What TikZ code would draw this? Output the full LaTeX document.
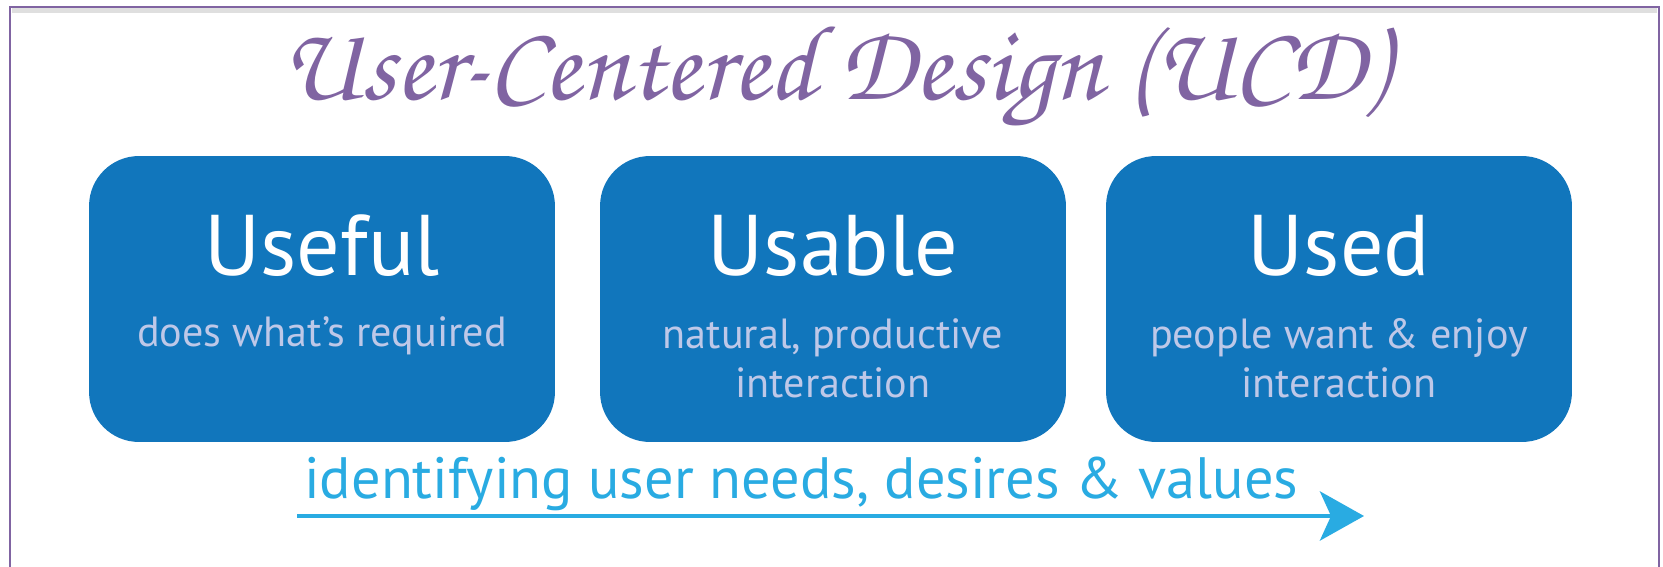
\documentclass[tikz,border=0pt]{standalone}
\usepackage{fontspec}
\setmainfont{PT Sans}
\newfontfamily\titlefont{texgyrechorus-mediumitalic.otf}
\usetikzlibrary{arrows.meta}
\definecolor{ucdpurple}{RGB}{128,100,162}
\definecolor{ucdblue}{RGB}{17,118,188}
\definecolor{ucdsub}{RGB}{190,200,232}
\definecolor{ucdcyan}{RGB}{41,171,226}
\tikzset{
  box/.style={fill=ucdblue, rounded corners=1cm, minimum width=9.32cm, minimum height=5.72cm, inner sep=0pt},
  mainword/.style={text=white, anchor=base, inner sep=0pt, font=\fontsize{49}{49}\selectfont},
  subword/.style={text=ucdsub, anchor=base, inner sep=0pt, align=center, font=\fontsize{24}{28.3}\selectfont},
  flow/.style={draw=ucdcyan, line width=2.83pt, -{Stealth[length=0.88cm, width=0.98cm, inset=0.22cm]}},
}
\begin{document}
\begin{tikzpicture}[x=0.02cm, y=-0.02cm]
\useasboundingbox (0,0) rectangle (1663,567);
\fill[white] (0,0) rectangle (1663,567);
% frame with shadow
\draw[gray!25, line width=3pt] (12,10) -- (1657,10);
\draw[ucdpurple, line width=1pt] (10,600) -- (10,7) -- (1659,7) -- (1659,600);
% title
\node[text=ucdpurple, anchor=base, inner sep=0pt, font=\titlefont\fontsize{61}{61}\selectfont] (title) at (835,100) {User-Centered Design (UCD)};
% boxes
\node[box] (b1) at (322,299) {};
\node[box] (b2) at (833,299) {};
\node[box] (b3) at (1339,299) {};
\node[mainword] (w1) at (322,276) {Useful};
\node[mainword] (w2) at (833,276) {Usable};
\node[mainword] (w3) at (1339,276) {Used};
\node[subword] (s1) at (322,347) {does what’s required};
\node[subword] (s2) at (833,398) {natural, productive\\interaction};
\node[subword] (s3) at (1339,398) {people want \& enjoy\\interaction};
% arrow
\node[text=ucdcyan, anchor=base west, inner sep=0pt, font=\fontsize{33.2}{33.2}\selectfont] (lbl) at (304,498) {identifying user needs, desires \& values};
\coordinate (as) at (297,516);
\coordinate (ae) at (1364,516);
\draw[flow] (as) -- (ae);
\end{tikzpicture}
\end{document}
